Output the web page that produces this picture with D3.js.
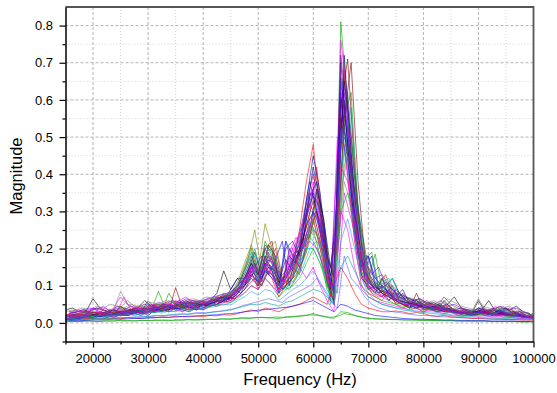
<!DOCTYPE html>
<html>
<head>
<meta charset="utf-8">
<script src="https://cdnjs.cloudflare.com/ajax/libs/d3/7.8.5/d3.min.js"></script>
<style>
  body { margin: 0; background: #fff; }
  text { font-family: "Liberation Sans", Arial, sans-serif; fill: #000; }
</style>
</head>
<body>
<svg id="chart" width="557" height="393"></svg>
<script>
// frequency bins (Hz) of the first batch of spectra
const freq = [15000,16250,17500,18750,20000,21250,22500,23750,25000,26250,27500,28750,30000,31250,32500,33750,35000,36250,37500,38750,40000,41250,42500,43750,45000,46250,47500,48750,50000,51250,52500,53750,55000,56250,57500,58750,60000,61250,62500,63750,65000,66250,67500,68750,70000,71250,72500,73750,75000,76250,77500,78750,80000,81250,82500,83750,85000,86250,87500,88750,90000,91250,92500,93750,95000,96250,97500,98750,100000];
// frequency bins (Hz) of the second batch (half a bin later)
const freqB = [15625,16875,18125,19375,20625,21875,23125,24375,25625,26875,28125,29375,30625,31875,33125,34375,35625,36875,38125,39375,40625,41875,43125,44375,45625,46875,48125,49375,50625,51875,53125,54375,55625,56875,58125,59375,60625,61875,63125,64375,65625,66875,68125,69375,70625,71875,73125,74375,75625,76875,78125,79375,80625,81875,83125,84375,85625,86875,88125,89375,90625,91875,93125,94375,95625,96875,98125,99375];

// magnitudes, batch A
const s1 = [.035,.04,.03,.032,.065,.04,.03,.025,.045,.03, .04,.03,.045,.03,.04,.035,.05,.04,.045,.035, .05,.06,.08,.14,.09,.12,.12,.16,.1,.18, .14,.08,.12,.15,.2,.26,.3,.22,.12,.05, .62,.45,.25,.12,.1,.08,.12,.07,.06,.05, .04,.05,.04,.05,.035,.06,.04,.03,.03,.025, .06,.03,.035,.03,.04,.025,.03,.02,.025];
const s2 = [.02,.025,.015,.02,.03,.02,.025,.03,.02,.025, .03,.025,.04,.03,.05,.035,.045,.03,.04,.05, .04,.06,.05,.07,.06,.08,.1,.14,.09,.15, .12,.07,.1,.16,.25,.38,.48,.3,.15,.1, .55,.4,.22,.1,.08,.07,.06,.09,.05,.04, .05,.04,.03,.04,.03,.035,.03,.02,.025,.02, .03,.02,.025,.02,.03,.02,.02,.015,.02];
const s3 = [.01,.015,.02,.012,.018,.025,.02,.03,.025,.02, .03,.035,.025,.04,.03,.08,.05,.04,.035,.04, .05,.045,.06,.07,.08,.1,.15,.2,.12,.22, .18,.09,.11,.13,.18,.22,.25,.18,.09,.06, .81,.58,.3,.15,.12,.185,.09,.06,.05,.06, .04,.05,.035,.04,.05,.03,.04,.03,.025,.02, .03,.025,.04,.03,.02,.03,.025,.02,.015];
const s4 = [.015,.02,.018,.025,.02,.03,.025,.02,.03,.025, .035,.03,.04,.035,.045,.05,.04,.06,.045,.04, .045,.05,.07,.06,.09,.12,.1,.16,.13,.2, .16,.1,.22,.18,.15,.28,.35,.25,.14,.08, .66,.5,.3,.18,.18,.12,.1,.08,.07,.09, .05,.06,.045,.04,.05,.04,.035,.03,.03,.025, .04,.03,.025,.035,.025,.02,.025,.02,.015];
const s5 = [.01,.012,.015,.02,.015,.018,.022,.02,.025,.03, .025,.03,.035,.03,.04,.05,.04,.035,.045,.05, .04,.05,.045,.06,.07,.09,.13,.17,.1,.19, .2,.1,.09,.12,.16,.2,.2,.16,.12,.1, .4,.52,.35,.2,.1,.08,.11,.12,.07,.05, .06,.04,.05,.035,.04,.03,.03,.025,.03,.02, .025,.03,.02,.04,.03,.02,.02,.018,.015];
const s6 = [.02,.03,.035,.028,.04,.035,.03,.04,.07,.05, .04,.035,.03,.045,.04,.035,.06,.05,.055,.045, .05,.06,.055,.08,.07,.1,.12,.15,.13,.17, .13,.09,.14,.2,.23,.3,.38,.28,.12,.07, .76,.6,.33,.16,.1,.09,.07,.06,.08,.05, .05,.04,.05,.04,.035,.04,.03,.03,.025,.02, .03,.035,.03,.02,.04,.025,.03,.02,.02];
const s7 = [.015,.02,.025,.02,.015,.025,.03,.035,.04,.06, .045,.04,.035,.05,.045,.06,.055,.05,.04,.045, .05,.055,.065,.06,.08,.11,.16,.21,.14,.267, .2,.1,.13,.11,.14,.19,.28,.2,.1,.06, .5,.45,.25,.14,.09,.08,.07,.1,.06,.05, .045,.05,.04,.035,.045,.04,.03,.035,.025,.03, .025,.02,.03,.025,.02,.03,.02,.018,.02];
const s8 = [.01,.012,.01,.015,.02,.018,.015,.02,.025,.02, .025,.03,.02,.035,.03,.04,.035,.045,.04,.035, .04,.05,.06,.055,.07,.09,.1,.13,.11,.16, .15,.11,.17,.14,.2,.3,.42,.32,.16,.09, .7,.48,.28,.13,.09,.1,.08,.06,.09,.07, .05,.06,.04,.045,.04,.03,.035,.03,.03,.025, .035,.03,.025,.03,.025,.02,.02,.015,.015];
const s9 = [.02,.018,.022,.03,.025,.02,.03,.025,.03,.035, .03,.04,.035,.03,.05,.045,.04,.05,.06,.04, .055,.05,.06,.075,.065,.08,.11,.14,.12,.18, .17,.1,.12,.16,.22,.32,.4,.3,.13,.08, .72,.55,.32,.18,.12,.1,.09,.08,.06,.08, .06,.05,.06,.045,.04,.035,.04,.03,.035,.03, .03,.025,.035,.03,.025,.03,.025,.02,.02];
const s10 = [.01,.015,.012,.018,.022,.02,.025,.018,.02,.025, .03,.025,.03,.035,.04,.03,.095,.04,.035,.04, .05,.045,.05,.06,.07,.085,.12,.16,.13,.2, .22,.11,.1,.14,.19,.26,.33,.24,.11,.06, .58,.71,.42,.2,.12,.09,.08,.07,.055,.05, .04,.08,.035,.04,.03,.035,.03,.025,.03,.02, .025,.03,.02,.025,.02,.025,.02,.02,.015];
const s11 = [.012,.015,.02,.018,.015,.02,.025,.03,.028,.025, .03,.035,.05,.04,.035,.045,.04,.05,.045,.055, .05,.06,.07,.065,.08,.1,.14,.19,.11,.17, .15,.08,.1,.12,.17,.24,.22,.18,.11,.07, .48,.62,.4,.22,.11,.1,.12,.09,.06,.06, .05,.04,.045,.035,.03,.04,.035,.025,.02,.025, .03,.02,.025,.03,.035,.025,.02,.02,.018];
const s12 = [.008,.01,.012,.015,.012,.018,.02,.015,.022,.02, .025,.02,.03,.028,.035,.03,.04,.035,.03,.04, .035,.045,.05,.06,.055,.07,.09,.12,.1,.14, .12,.1,.2,.22,.18,.33,.45,.35,.18,.12, .6,.44,.26,.15,.18,.1,.08,.07,.06,.05, .045,.04,.05,.04,.035,.03,.03,.028,.025,.02, .03,.025,.02,.025,.02,.018,.02,.015,.012];
const s13 = [.015,.02,.018,.022,.04,.03,.025,.035,.03,.028, .032,.03,.038,.042,.035,.05,.045,.055,.05,.045, .05,.058,.065,.07,.06,.09,.12,.15,.11,.16, .14,.09,.12,.18,.21,.29,.36,.27,.14,.09, .64,.52,.3,.17,.11,.09,.1,.085,.07,.065, .055,.05,.045,.04,.045,.04,.035,.03,.03,.025, .03,.028,.025,.03,.028,.02,.022,.018,.015];
const s14 = [.02,.025,.022,.02,.03,.025,.03,.028,.035,.03, .03,.04,.035,.045,.04,.05,.045,.04,.05,.06, .055,.06,.065,.075,.07,.09,.1,.13,.1,.15, .13,.09,.11,.13,.19,.24,.28,.2,.12,.1, .42,.38,.27,.17,.1,.08,.07,.09,.06,.05, .05,.045,.04,.05,.04,.035,.03,.03,.025,.025, .025,.03,.025,.02,.025,.02,.018,.02,.015];
const s15 = [.03,.035,.03,.028,.035,.04,.03,.035,.085,.05, .04,.045,.04,.05,.045,.05,.06,.045,.05,.055, .06,.055,.07,.08,.075,.1,.13,.17,.12,.2, .16,.1,.12,.15,.23,.27,.25,.22,.13,.12, .35,.45,.32,.2,.13,.1,.09,.11,.07,.06, .06,.055,.05,.045,.05,.055,.04,.035,.03,.03, .065,.035,.03,.04,.03,.035,.025,.02,.02];
const s16 = [.01,.012,.015,.014,.018,.02,.016,.02,.022,.025, .02,.025,.03,.028,.035,.03,.032,.04,.035,.038, .04,.045,.05,.048,.055,.065,.08,.1,.09,.12, .1,.07,.09,.1,.12,.16,.2,.16,.1,.07, .3,.35,.25,.14,.09,.07,.06,.055,.05,.045, .04,.038,.035,.04,.032,.03,.028,.025,.022,.02, .025,.02,.022,.02,.018,.016,.015,.014,.012];
const s17 = [.01,.012,.01,.014,.016,.015,.018,.02,.02,.022, .024,.022,.028,.03,.026,.032,.03,.036,.034,.04, .038,.042,.045,.05,.048,.06,.07,.085,.075,.09, .085,.06,.075,.09,.1,.12,.14,.11,.08,.05, .22,.28,.2,.12,.08,.06,.05,.045,.04,.04, .035,.032,.03,.03,.028,.025,.022,.02,.02,.018, .02,.018,.016,.015,.015,.014,.012,.012,.01];
const s18 = [.02,.022,.025,.03,.028,.025,.03,.035,.03,.032, .035,.03,.06,.04,.045,.04,.05,.045,.055,.05, .06,.065,.06,.07,.075,.095,.14,.18,.13,.21, .19,.12,.14,.17,.21,.3,.34,.31,.18,.13, .54,.48,.36,.25,.15,.12,.13,.1,.08,.07, .065,.06,.05,.055,.045,.07,.05,.04,.035,.03, .04,.035,.03,.045,.035,.03,.03,.025,.02];
const s19 = [.004,.005,.004,.006,.005,.004,.006,.005,.007,.006, .005,.007,.006,.008,.007,.006,.008,.007,.009,.008, .008,.01,.009,.011,.01,.012,.014,.013,.015,.014, .013,.012,.015,.016,.018,.02,.025,.02,.015,.012, .03,.028,.02,.015,.012,.01,.01,.009,.009,.008, .008,.008,.007,.007,.006,.006,.006,.005,.005,.005, .005,.005,.004,.004,.004,.004,.003,.003,.003];
const s20 = [.008,.01,.009,.012,.011,.01,.013,.012,.011,.014, .013,.012,.015,.014,.016,.015,.018,.017,.016,.018, .017,.02,.019,.022,.021,.025,.03,.035,.03,.04, .035,.03,.04,.045,.05,.06,.07,.06,.05,.1, .15,.12,.08,.05,.04,.035,.03,.03,.032,.03, .025,.028,.025,.02,.018,.02,.016,.015,.014,.012, .012,.011,.01,.01,.009,.009,.008,.008,.007];
const s21 = [.005,.006,.006,.007,.008,.008,.009,.01,.01,.011, .012,.012,.013,.014,.015,.015,.016,.017,.018,.019, .02,.021,.022,.024,.025,.027,.03,.032,.034,.036, .038,.04,.042,.045,.05,.055,.06,.05,.04,.03, .05,.045,.035,.03,.025,.02,.018,.016,.014,.012, .011,.01,.01,.009,.009,.008,.008,.007,.007,.006, .006,.006,.005,.005,.005,.005,.004,.004,.004];
const s22 = [.01,.015,.02,.018,.04,.025,.02,.018,.022,.02, .025,.03,.028,.035,.03,.04,.035,.03,.045,.04, .035,.05,.045,.055,.06,.07,.08,.1,.09,.12, .1,.08,.12,.2,.15,.12,.15,.1,.06,.03, .3,.25,.15,.09,.07,.06,.055,.05,.045,.04, .035,.04,.03,.035,.03,.025,.028,.022,.02,.02, .018,.02,.016,.018,.015,.014,.012,.012,.01];
const s23 = [.012,.015,.014,.018,.02,.016,.022,.025,.02,.03, .028,.032,.03,.04,.035,.045,.04,.038,.06,.045, .05,.055,.05,.065,.07,.085,.11,.13,.11,.14, .13,.08,.22,.15,.13,.22,.3,.26,.15,.08, .52,.42,.24,.14,.18,.11,.09,.075,.065,.055, .05,.045,.04,.045,.035,.04,.03,.028,.025,.022, .028,.025,.022,.02,.022,.018,.016,.015,.012];
const s24 = [.006,.008,.01,.009,.012,.011,.013,.012,.015,.014, .016,.015,.018,.02,.019,.022,.021,.024,.023,.026, .025,.028,.03,.032,.035,.04,.045,.05,.048,.055, .05,.045,.055,.06,.07,.08,.09,.085,.07,.05, .15,.18,.14,.1,.07,.06,.05,.045,.04,.035, .032,.03,.028,.026,.024,.022,.02,.018,.017,.016, .015,.014,.013,.012,.012,.011,.01,.01,.009];

// magnitudes, batch B (on freqB)
const t1 = [.018,.022,.03,.025,.02,.035,.028,.03,.025,.04, .035,.03,.05,.04,.035,.045,.04,.06,.05,.045, .05,.065,.06,.055,.08,.1,.13,.17,.12,.16, .2,.12,.1,.15,.22,.3,.42,.25,.1,.25, .68,.4,.2,.12,.09,.1,.13,.08,.07,.06, .05,.055,.045,.05,.04,.045,.035,.03,.03,.028, .035,.03,.04,.025,.03,.025,.02,.02];
const t2 = [.012,.015,.02,.025,.018,.02,.03,.022,.028,.035, .03,.04,.035,.045,.05,.04,.055,.045,.05,.06, .055,.05,.07,.065,.09,.08,.12,.15,.18,.13, .17,.22,.1,.2,.28,.38,.3,.2,.08,.45, .6,.35,.18,.15,.18,.09,.08,.1,.06,.055, .06,.045,.05,.04,.035,.04,.03,.035,.025,.03, .03,.025,.03,.035,.02,.025,.02,.018];
const t3 = [.008,.01,.015,.012,.02,.018,.025,.02,.03,.025, .03,.028,.035,.085,.04,.035,.05,.045,.055,.05, .045,.06,.055,.07,.065,.09,.11,.14,.1,.15, .13,.1,.09,.12,.17,.22,.35,.22,.12,.2, .55,.62,.3,.17,.19,.1,.09,.07,.08,.06, .05,.06,.04,.045,.05,.035,.04,.03,.03,.025, .03,.035,.025,.03,.025,.02,.02,.015];
const t4 = [.025,.03,.028,.035,.04,.04,.035,.03,.07,.035, .045,.04,.05,.045,.055,.05,.06,.07,.055,.05, .06,.055,.065,.08,.075,.1,.12,.16,.11,.14, .15,.12,.13,.22,.26,.32,.28,.2,.07,.5, .48,.3,.16,.1,.09,.08,.07,.09,.06,.05, .045,.05,.04,.035,.045,.04,.03,.035,.03,.025, .04,.03,.045,.03,.025,.03,.02,.02];
const t5 = [.03,.028,.035,.03,.04,.035,.03,.045,.04,.035, .04,.06,.045,.05,.04,.055,.05,.06,.045,.05, .055,.06,.07,.065,.08,.1,.14,.19,.13,.21, .18,.11,.15,.18,.2,.25,.36,.28,.15,.3, .65,.5,.28,.15,.12,.09,.1,.12,.08,.07, .06,.065,.05,.055,.045,.05,.07,.04,.035,.03, .035,.06,.03,.04,.035,.045,.03,.025];
const t6 = [.015,.018,.02,.025,.022,.028,.025,.03,.035,.03, .035,.04,.038,.05,.045,.04,.05,.055,.05,.06, .055,.07,.065,.075,.09,.11,.15,.2,.13,.18, .17,.1,.12,.14,.2,.27,.24,.18,.06,.22, .5,.45,.25,.13,.1,.11,.09,.08,.07,.06, .05,.055,.045,.04,.05,.04,.035,.03,.025,.03, .03,.025,.035,.03,.025,.02,.02,.015];
const t7 = [.02,.025,.022,.03,.028,.025,.035,.03,.028,.035, .04,.035,.045,.04,.05,.045,.055,.05,.06,.055, .05,.06,.07,.06,.085,.1,.13,.16,.11,.19, .15,.09,.2,.17,.23,.35,.33,.26,.12,.35, .58,.38,.22,.14,.1,.09,.11,.09,.07,.065, .055,.05,.06,.045,.04,.05,.035,.04,.03,.025, .03,.035,.025,.03,.04,.025,.02,.02];
const t8 = [.012,.014,.018,.02,.016,.022,.025,.02,.03,.028, .03,.035,.04,.035,.045,.04,.06,.045,.05,.055, .045,.055,.06,.07,.08,.1,.14,.18,.12,.17, .16,.09,.1,.12,.15,.2,.22,.18,.05,.18, .45,.58,.32,.18,.09,.08,.1,.12,.07,.05, .05,.045,.04,.035,.04,.035,.03,.025,.03,.02, .025,.03,.02,.025,.03,.02,.018,.015];
const t9 = [.02,.018,.025,.022,.03,.028,.025,.035,.04,.03, .035,.045,.04,.05,.045,.055,.05,.045,.06,.05, .055,.06,.07,.075,.09,.12,.17,.25,.14,.2, .22,.12,.11,.14,.18,.26,.24,.19,.08,.2, .42,.5,.3,.16,.1,.09,.08,.07,.065,.06, .05,.045,.05,.04,.035,.04,.035,.03,.028,.025, .03,.025,.028,.022,.025,.02,.018,.015];
const t10 = [.01,.012,.015,.014,.018,.016,.02,.022,.02,.025, .028,.025,.03,.035,.032,.04,.038,.045,.04,.05, .048,.055,.06,.065,.07,.09,.11,.14,.12,.15, .14,.11,.18,.16,.22,.34,.38,.28,.12,.28, .72,.46,.24,.12,.1,.08,.09,.07,.06,.055, .05,.045,.04,.045,.035,.04,.03,.028,.025,.022, .028,.025,.022,.025,.02,.018,.016,.014];
const t11 = [.025,.03,.035,.04,.035,.045,.03,.04,.035,.045, .04,.05,.045,.055,.05,.06,.055,.065,.06,.055, .065,.07,.075,.08,.09,.11,.13,.16,.12,.17, .15,.1,.14,.19,.2,.28,.3,.24,.1,.32, .62,.42,.26,.16,.13,.15,.1,.09,.075,.07, .06,.065,.055,.05,.06,.045,.05,.04,.035,.035, .04,.035,.04,.045,.035,.04,.03,.025];
const t12 = [.012,.016,.02,.018,.025,.022,.02,.028,.025,.03, .032,.03,.04,.035,.045,.04,.05,.045,.055,.05, .05,.06,.055,.07,.065,.08,.1,.12,.1,.14, .12,.09,.11,.13,.17,.24,.3,.22,.09,.22, .55,.7,.38,.18,.11,.09,.08,.07,.06,.055, .05,.045,.04,.035,.04,.03,.035,.025,.03,.02, .025,.03,.02,.025,.02,.02,.015,.015];
const t13 = [.03,.035,.04,.035,.045,.04,.05,.045,.04,.05, .045,.05,.055,.05,.06,.055,.05,.06,.065,.06, .07,.065,.075,.08,.085,.1,.12,.14,.11,.16, .14,.1,.13,.16,.2,.25,.22,.2,.12,.18, .38,.32,.22,.15,.12,.1,.11,.1,.08,.07, .065,.06,.055,.06,.05,.065,.055,.045,.04,.035, .045,.04,.035,.04,.045,.035,.03,.025];
const t14 = [.015,.02,.018,.025,.03,.025,.035,.03,.028,.035, .04,.035,.045,.04,.05,.045,.06,.05,.045,.055, .05,.06,.055,.07,.08,.095,.12,.15,.13,.17, .16,.11,.19,.23,.2,.22,.2,.15,.1,.08, .35,.28,.2,.12,.08,.07,.075,.065,.06,.05, .05,.04,.045,.04,.035,.03,.035,.03,.025,.025, .025,.02,.025,.02,.018,.02,.015,.015];
const t15 = [.003,.004,.004,.005,.004,.005,.005,.006,.005,.006, .006,.007,.006,.007,.008,.007,.008,.009,.008,.009, .01,.009,.011,.01,.012,.013,.012,.014,.015,.014, .016,.015,.017,.018,.02,.022,.02,.018,.015,.018, .025,.022,.018,.014,.012,.011,.01,.009,.009,.008, .008,.007,.007,.007,.006,.006,.006,.005,.005,.005, .005,.004,.004,.004,.004,.004,.003,.003];
const t16 = [.006,.008,.009,.01,.012,.011,.013,.014,.013,.015, .016,.018,.017,.02,.019,.022,.024,.023,.026,.028, .027,.03,.032,.035,.038,.045,.05,.055,.06,.065, .06,.055,.07,.08,.09,.1,.12,.09,.06,.04, .18,.12,.1,.07,.05,.04,.035,.03,.028,.025, .022,.02,.02,.018,.017,.016,.015,.014,.013,.012, .012,.011,.01,.01,.009,.009,.008,.008];

const seriesA = [s1, s2, s3, s4, s5, s6, s7, s8, s9, s10, s11, s12,
                 s13, s14, s15, s16, s17, s18, s19, s20, s21, s22, s23, s24];
const seriesB = [t1, t2, t3, t4, t5, t6, t7, t8, t9, t10, t11, t12, t13, t14, t15, t16];

// Origin-like colour cycles
const colorsA = ['#000000', '#ff0000', '#00a000', '#0000ff', '#00c0c0', '#ff00ff',
                 '#808000', '#000080', '#800080', '#800000', '#008080', '#0000a0',
                 '#8000ff', '#ff0080', '#808080', '#00c000', '#3399ff', '#404040',
                 '#00a000', '#ff0000', '#0000ff', '#ff00ff', '#4040ff', '#00a0a0'];
const colorsB = ['#ff0000', '#0000ff', '#00a000', '#ff00ff', '#000000', '#008080',
                 '#800080', '#00c0c0', '#808000', '#000080', '#8000ff', '#800000',
                 '#808080', '#e000e0', '#00a000', '#6060ff'];

const xTicks = [20000, 30000, 40000, 50000, 60000, 70000, 80000, 90000, 100000];
const xMinor = [15000, 25000, 35000, 45000, 55000, 65000, 75000, 85000, 95000];
const yTicks = [0, 0.1, 0.2, 0.3, 0.4, 0.5, 0.6, 0.7, 0.8];
const yMinor = [0.05, 0.15, 0.25, 0.35, 0.45, 0.55, 0.65, 0.75];

const plot = { left: 65.5, right: 533.5, top: 7, bottom: 341.5 };

const svg = d3.select('#chart');
svg.append('rect').attr('width', 557).attr('height', 393).attr('fill', '#fff');

const x = d3.scaleLinear().domain([15000, 100000]).range([plot.left, plot.right]);
const y = d3.scaleLinear().domain([-0.05, 0.85]).range([plot.bottom, plot.top]);

// grid
const grid = svg.append('g');
grid.selectAll('.xminor').data(xMinor.slice(1)).enter().append('line')
  .attr('x1', d => x(d)).attr('x2', d => x(d))
  .attr('y1', plot.top).attr('y2', plot.bottom)
  .attr('stroke', '#d4d4d4').attr('stroke-dasharray', '1,2');
grid.selectAll('.yminor').data(yMinor).enter().append('line')
  .attr('x1', plot.left).attr('x2', plot.right)
  .attr('y1', d => y(d)).attr('y2', d => y(d))
  .attr('stroke', '#d4d4d4').attr('stroke-dasharray', '1,2');
grid.selectAll('.xmajor').data(xTicks.slice(0, -1)).enter().append('line')
  .attr('x1', d => x(d)).attr('x2', d => x(d))
  .attr('y1', plot.top).attr('y2', plot.bottom)
  .attr('stroke', '#b4b4b4').attr('stroke-dasharray', '3,2');
grid.selectAll('.ymajor').data(yTicks).enter().append('line')
  .attr('x1', plot.left).attr('x2', plot.right)
  .attr('y1', d => y(d)).attr('y2', d => y(d))
  .attr('stroke', '#b4b4b4').attr('stroke-dasharray', '3,2');

// spectra: interleave the two batches so colours mix like the original
const spectra = [];
seriesA.forEach((v, i) => {
  spectra.push({ f: freq, v: v, c: colorsA[i] });
  if (seriesB[i]) spectra.push({ f: freqB, v: seriesB[i], c: colorsB[i] });
});

svg.append('clipPath').attr('id', 'clip').append('rect')
  .attr('x', plot.left).attr('y', plot.top)
  .attr('width', plot.right - plot.left).attr('height', plot.bottom - plot.top);

svg.append('g').attr('clip-path', 'url(#clip)')
  .selectAll('path')
  .data(spectra)
  .enter()
  .append('path')
  .attr('d', d => d3.line().x((m, i) => x(d.f[i])).y(m => y(m))(d.v))
  .attr('fill', 'none')
  .attr('stroke', d => d.c)
  .attr('stroke-width', 0.6);

// frame (top / right)
svg.append('path')
  .attr('d', `M${plot.left},${plot.top}H${plot.right}V${plot.bottom}`)
  .attr('fill', 'none').attr('stroke', '#555').attr('stroke-width', 1.8);

// axes
svg.append('g').attr('transform', `translate(0,${plot.bottom})`)
  .call(d3.axisBottom(x).tickValues(xTicks).tickSize(6).tickSizeOuter(0)
    .tickPadding(6.5).tickFormat(d3.format('d')));
svg.append('g').attr('transform', `translate(0,${plot.bottom})`)
  .call(d3.axisBottom(x).tickValues(xMinor).tickSize(3).tickFormat(''))
  .select('.domain').remove();

svg.append('g').attr('transform', `translate(${plot.left},0)`)
  .call(d3.axisLeft(y).tickValues(yTicks).tickSize(6).tickSizeOuter(0)
    .tickPadding(6.5).tickFormat(d3.format('.1f')));
svg.append('g').attr('transform', `translate(${plot.left},0)`)
  .call(d3.axisLeft(y).tickValues(yMinor.concat([-0.05])).tickSize(3).tickFormat(''))
  .select('.domain').remove();

svg.selectAll('.domain').attr('stroke', '#000').attr('stroke-width', 1.5);
svg.selectAll('.tick line').attr('stroke', '#000').attr('stroke-width', 1.2);
svg.selectAll('.tick text')
  .style('font-family', '"Liberation Sans", Arial, sans-serif')
  .style('font-size', '13px').attr('fill', '#000');

// axis titles
svg.append('text')
  .attr('x', (plot.left + plot.right) / 2 + 0.5).attr('y', 385)
  .attr('text-anchor', 'middle')
  .style('font-size', '16.5px')
  .text('Frequency (Hz)');

svg.append('text')
  .attr('transform', 'translate(22,176) rotate(-90)')
  .attr('text-anchor', 'middle')
  .style('font-size', '16.5px')
  .text('Magnitude');
</script>
</body>
</html>
